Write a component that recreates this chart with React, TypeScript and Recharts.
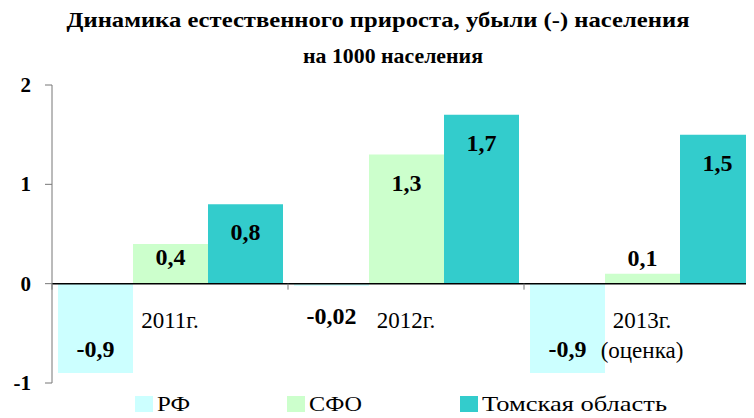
import React from "react";
import { BarChart, Bar, XAxis, YAxis, ReferenceLine, LabelList } from "recharts";

const categories = ["2011г.", "2012г.", "2013г.\n(оценка)"];
const rf = [-0.9, -0.02, -0.9];
const sfo = [0.4, 1.3, 0.1];
const tomsk = [0.8, 1.7, 1.5];
const yTicks = [-1, 0, 1, 2];
const seriesNames = ["РФ", "СФО", "Томская область"];

const COLORS = ["#CCFFFF", "#CCFFCC", "#33CCCC"];
const FONT = '"Liberation Serif", "Times New Roman", serif';

const data = categories.map((c, i) => ({ cat: c, rf: rf[i], sfo: sfo[i], tomsk: tomsk[i] }));

const CHART_W = 770;
const CHART_H = 418;
const M = { top: 85, right: 10, bottom: 5, left: 12 };
const X_H = 30;
const Y_W = 40;
const plotLeft = M.left + Y_W;
const plotW = CHART_W - M.right - plotLeft;
const plotH = CHART_H - M.top - M.bottom - X_H;
const zeroY = M.top + (plotH * 2) / 3;
const bandW = plotW / categories.length;

const fmt = (v: number) => String(v).replace(".", ",");

function ValueLabel(props: any) {
    const { x, y, width, height, value } = props;
    const top = Math.min(y, y + height);
    const h = Math.abs(height);
    const bottom = top + h;
    let cy: number;
    if (value >= 0) {
        cy = h >= 30 ? Math.min(top + 28, top + h / 2 - 7) : top - 16;
    } else {
        cy = h >= 30 ? bottom - 24 : top + 32;
    }
    return (
        <text
            x={x + width / 2}
            y={cy + 8}
            textAnchor="middle"
            fontFamily={FONT}
            fontWeight="bold"
            fontSize={24}
            fill="#000"
        >
            {fmt(value)}
        </text>
    );
}

function CategoryTick(props: any) {
    const { x, payload } = props;
    const lines = String(payload.value).split("\n");
    return (
        <g>
            <line x1={x - bandW / 2} x2={x - bandW / 2} y1={zeroY} y2={zeroY + 6} stroke="#777" />
            {lines.map((l, i) => (
                <text
                    key={i}
                    x={x}
                    y={zeroY + 44 + i * 30}
                    textAnchor="middle"
                    fontFamily={FONT}
                    fontSize={23}
                    fill="#000"
                >
                    {l}
                </text>
            ))}
        </g>
    );
}

function YTick(props: any) {
    const { x, y, payload } = props;
    return (
        <text x={x} y={y + 7} textAnchor="end" fontFamily={FONT} fontWeight="bold" fontSize={21} fill="#000">
            {payload.value}
        </text>
    );
}

const legendX = [135, 287, 460];
const legendTextW = [33, 53, 185];

export default function App() {
    return (
        <div
            style={{
                position: "relative",
                width: 754,
                height: 418,
                margin: "-8px 0 0 -8px",
                overflow: "hidden",
                background: "#fff",
            }}
        >
            <div style={{ position: "absolute", left: 0, top: 0 }}>
                <BarChart
                    width={CHART_W}
                    height={CHART_H}
                    data={data}
                    margin={M}
                    barCategoryGap={6}
                    barGap={0}
                >
                    <XAxis
                        dataKey="cat"
                        height={X_H}
                        axisLine={false}
                        tickLine={false}
                        tick={(p: any) => <CategoryTick {...p} />}
                        interval={0}
                    />
                    <YAxis
                        width={Y_W}
                        domain={[-1, 2]}
                        ticks={yTicks}
                        tickSize={7}
                        tickMargin={14}
                        axisLine={{ stroke: "#777" }}
                        tickLine={{ stroke: "#777" }}
                        tick={(p: any) => <YTick {...p} />}
                    />
                    <Bar dataKey="rf" fill={COLORS[0]} isAnimationActive={false}>
                        <LabelList dataKey="rf" content={<ValueLabel />} />
                    </Bar>
                    <Bar dataKey="sfo" fill={COLORS[1]} isAnimationActive={false}>
                        <LabelList dataKey="sfo" content={<ValueLabel />} />
                    </Bar>
                    <Bar dataKey="tomsk" fill={COLORS[2]} isAnimationActive={false}>
                        <LabelList dataKey="tomsk" content={<ValueLabel />} />
                    </Bar>
                    <ReferenceLine y={0} stroke="#000" strokeWidth={1.5} />
                </BarChart>
            </div>
            <svg width={754} height={418} style={{ position: "absolute", left: 0, top: 0, pointerEvents: "none" }}>
                <text
                    x={378}
                    y={27}
                    textAnchor="middle"
                    fontFamily={FONT}
                    fontWeight="bold"
                    fontSize={22}
                    textLength={623}
                    lengthAdjust="spacingAndGlyphs"
                >
                    Динамика естественного прироста, убыли (-) населения
                </text>
                <text
                    x={393}
                    y={63}
                    textAnchor="middle"
                    fontFamily={FONT}
                    fontWeight="bold"
                    fontSize={22}
                    textLength={180}
                    lengthAdjust="spacingAndGlyphs"
                >
                    на 1000 населения
                </text>
                {seriesNames.map((n, i) => (
                    <g key={n}>
                        <rect x={legendX[i]} y={396} width={18} height={16} fill={COLORS[i]} />
                        <text
                            x={legendX[i] + 22}
                            y={411}
                            fontFamily={FONT}
                            fontSize={22}
                            fill="#000"
                            textLength={legendTextW[i]}
                            lengthAdjust="spacingAndGlyphs"
                        >
                            {n}
                        </text>
                    </g>
                ))}
            </svg>
        </div>
    );
}
